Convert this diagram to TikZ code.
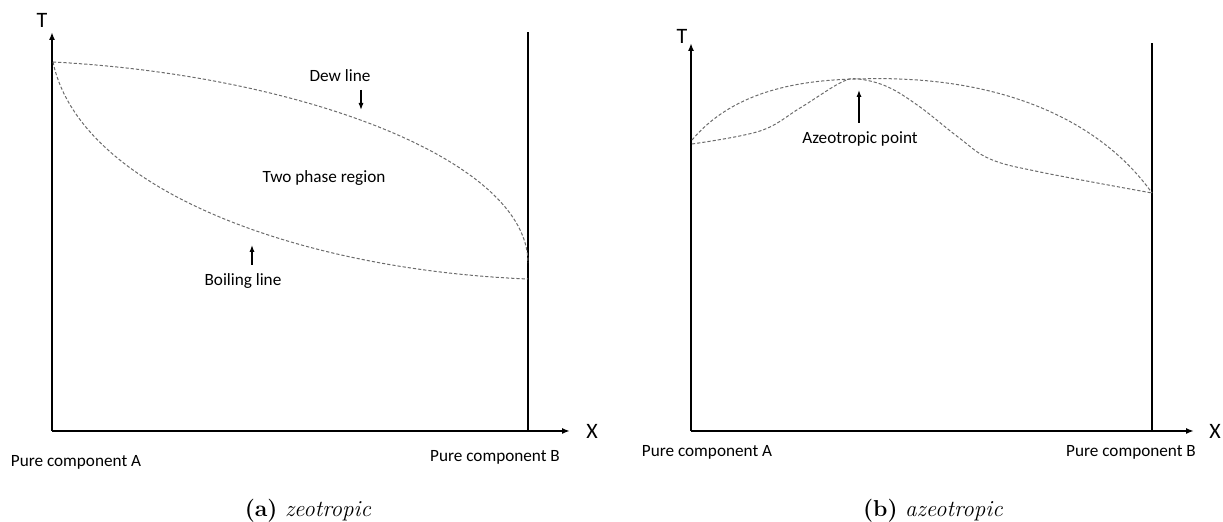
\documentclass[tikz,border=0pt]{standalone}
\usepackage{fontspec}
\newfontfamily\labelfont{Carlito}
\usepackage{tikz}
\usetikzlibrary{arrows.meta, positioning}

\begin{document}
\begin{tikzpicture}[
        x=0.5pt, y=-0.5pt,
        every node/.style={inner sep=0pt},
        lbl/.style={font=\labelfont\fontsize{8.6}{10}\selectfont},
        axlbl/.style={font=\labelfont\fontsize{11}{13}\selectfont},
        capt/.style={font=\fontsize{11.5}{13}\selectfont},
        axis/.style={line width=1pt, -{Latex[length=4pt,width=3pt]}},
        border/.style={line width=0.9pt},
        phaseline/.style={gray!85!black, line width=0.5pt, dash pattern=on 1.6pt off 1pt},
        pointer/.style={line width=0.8pt, -{Latex[length=3.5pt,width=2.6pt]}}
    ]
    \useasboundingbox (0,0) rectangle (1223,522);

    % (a) zeotropic
    \coordinate (OA) at (52,431);
    \coordinate (TA) at (52,32);
    \coordinate (XA) at (570,431);
    \coordinate (BAbot) at (528,431);
    \coordinate (BAtop) at (528,32);
    \draw [axis] (OA) -- (TA);
    \draw [axis] (OA) -- (XA);
    \draw [border] (BAbot) -- (BAtop);
    \node (TlabA) [axlbl] at (42,20) {T};
    \node (XlabA) [axlbl] at (592,431) {X};
    \node (PureAa) [lbl] at (76,462) {Pure component A};
    \node (PureBa) [lbl] at (495,457) {Pure component B};

    \coordinate (TopA) at (53,62);
    \coordinate (DewEnd) at (528,263);
    \coordinate (BoilEnd) at (528,279);
    \draw [phaseline] (TopA) .. controls (300,75) and (528,160) .. (DewEnd);
    \draw [phaseline] (TopA) .. controls (80,190) and (300,270) .. (BoilEnd);

    \node (Dew) [lbl] at (340,76) {Dew line};
    \coordinate (DewFrom) at (361,90);
    \coordinate (DewTo) at (361,110);
    \draw [pointer] (DewFrom) -- (DewTo);
    \node (Region) [lbl] at (324,178) {Two phase region};
    \node (Boil) [lbl] at (243,281) {Boiling line};
    \coordinate (BoilFrom) at (252,265);
    \coordinate (BoilTo) at (252,245);
    \draw [pointer] (BoilFrom) -- (BoilTo);

    \node (CapA) [capt] at (308,511) {\textbf{(a)}\ \textit{zeotropic}};

    % (b) azeotropic
    \coordinate (OB) at (691,431);
    \coordinate (TB) at (691,43);
    \coordinate (XB) at (1194,431);
    \coordinate (BBbot) at (1152,431);
    \coordinate (BBtop) at (1152,43);
    \draw [axis] (OB) -- (TB);
    \draw [axis] (OB) -- (XB);
    \draw [border] (BBbot) -- (BBtop);
    \node (TlabB) [axlbl] at (682,36) {T};
    \node (XlabB) [axlbl] at (1215,431) {X};
    \node (PureAb) [lbl] at (707,452) {Pure component A};
    \node (PureBb) [lbl] at (1131,452) {Pure component B};

    \coordinate (Peak) at (858,79);
    \coordinate (EndB) at (1152,193);
    \draw [phaseline] (692,140) .. controls (730,95) and (790,80) .. (Peak)
        .. controls (1000,74) and (1100,120) .. (EndB);
    \draw [phaseline] plot[smooth, tension=0.6] coordinates
        {(692,144) (760,131) (800,108) (840,83) (Peak) (888,87) (920,107) (958,137) (990,159) (1040,172) (1152,193)};

    \node (Azeo) [lbl] at (860,139) {Azeotropic point};
    \coordinate (AzeoFrom) at (859,123);
    \coordinate (AzeoTo) at (859,90);
    \draw [pointer] (AzeoFrom) -- (AzeoTo);

    \node (CapB) [capt] at (933,511) {\textbf{(b)}\ \textit{azeotropic}};

\end{tikzpicture}
\end{document}
